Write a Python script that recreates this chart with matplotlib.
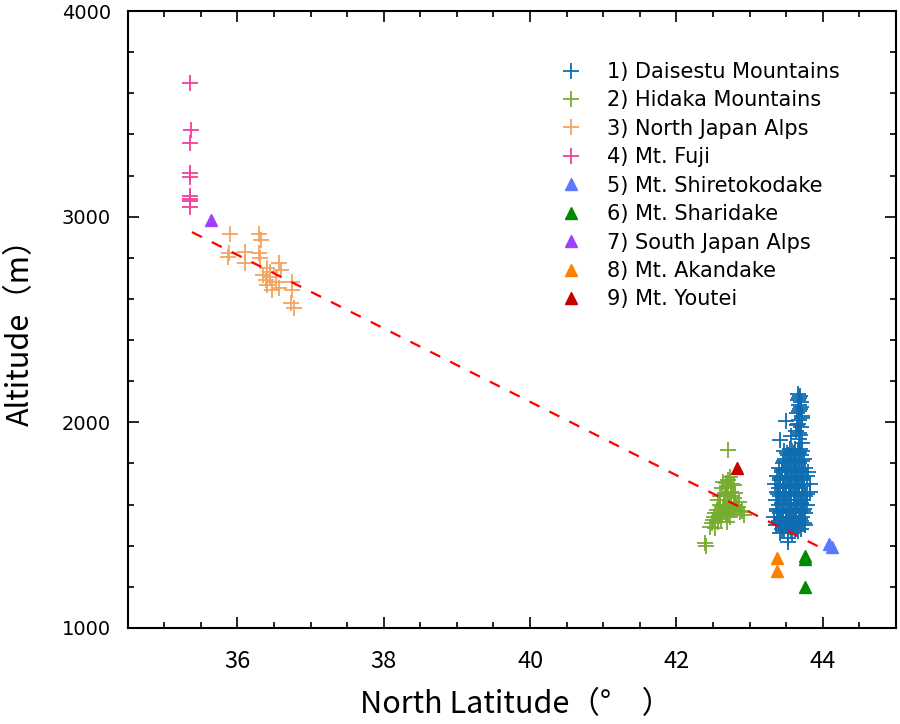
import matplotlib
matplotlib.use("Agg")
import matplotlib.pyplot as plt
from matplotlib.ticker import MultipleLocator

plt.rcParams['font.family'] = ['Noto Sans CJK JP', 'DejaVu Sans']

# 1) Daisetsu Mountains
dais_lat = [43.66, 43.68, 43.70, 43.67, 43.69, 43.65, 43.71, 43.68, 43.66, 43.70, 43.64, 43.69, 43.67, 43.72,
            43.42, 43.50, 43.56, 43.47,
            43.58, 43.66, 43.72,
            43.52, 43.62, 43.70,
            43.48, 43.56, 43.64, 43.74,
            43.45, 43.53, 43.60, 43.68,
            43.40, 43.50, 43.58, 43.66, 43.76,
            43.44, 43.55, 43.63, 43.72, 43.80,
            43.38, 43.48, 43.57, 43.66, 43.78,
            43.42, 43.52, 43.60, 43.70,
            43.34, 43.46, 43.55, 43.64, 43.74, 43.83,
            43.40, 43.50, 43.58, 43.68,
            43.38, 43.45, 43.54, 43.62, 43.72, 43.82,
            43.42, 43.50, 43.60, 43.68, 43.76,
            43.36, 43.47, 43.56, 43.65, 43.73,
            43.40, 43.52, 43.60, 43.70, 43.78,
            43.38, 43.46, 43.55, 43.64, 43.74,
            43.42, 43.50, 43.58, 43.67, 43.76,
            43.33, 43.46, 43.54, 43.62, 43.72,
            43.40, 43.50, 43.60, 43.70,
            43.36, 43.48, 43.56, 43.66, 43.75,
            43.44, 43.53, 43.62, 43.70,
            43.42, 43.58, 43.52, 43.52,
            43.69, 43.66, 43.70, 43.67, 43.71, 43.65, 43.68,
            43.55, 43.62, 43.69, 43.51, 43.60, 43.67, 43.47, 43.55, 43.63, 43.71,
            43.44, 43.53, 43.61, 43.69, 43.41, 43.49, 43.57, 43.65, 43.73,
            43.45, 43.54, 43.63, 43.71, 43.39, 43.48, 43.57, 43.66, 43.79,
            43.44, 43.53, 43.62, 43.70, 43.37, 43.46, 43.55, 43.64, 43.73,
            43.43, 43.52, 43.61, 43.69, 43.40, 43.49, 43.58, 43.66, 43.74,
            43.45, 43.55, 43.64, 43.47, 43.56, 43.66]
dais_alt = [2140, 2120, 2100, 2085, 2065, 2045, 2030, 2010, 1990, 1975, 1960, 1940, 1920, 1900,
            1915, 2005, 1935, 1860,
            1860, 1860, 1860,
            1840, 1840, 1840,
            1820, 1820, 1820, 1820,
            1800, 1800, 1800, 1800,
            1780, 1780, 1780, 1780, 1780,
            1760, 1760, 1760, 1760, 1760,
            1740, 1740, 1740, 1740, 1740,
            1720, 1720, 1720, 1720,
            1700, 1700, 1700, 1700, 1700, 1700,
            1680, 1680, 1680, 1680,
            1660, 1660, 1660, 1660, 1660, 1660,
            1640, 1640, 1640, 1640, 1640,
            1620, 1620, 1620, 1620, 1620,
            1600, 1600, 1600, 1600, 1600,
            1580, 1580, 1580, 1580, 1580,
            1560, 1560, 1560, 1560, 1560,
            1540, 1540, 1540, 1540, 1540,
            1520, 1520, 1520, 1520,
            1500, 1500, 1500, 1500, 1500,
            1480, 1480, 1480, 1480,
            1460, 1460, 1440, 1420,
            2130, 2110, 2075, 2055, 2020, 1985, 1950,
            1870, 1870, 1870, 1850, 1850, 1850, 1810, 1810, 1810, 1810,
            1770, 1770, 1770, 1770, 1730, 1730, 1730, 1730, 1730,
            1690, 1690, 1690, 1690, 1650, 1650, 1650, 1650, 1650,
            1610, 1610, 1610, 1610, 1570, 1570, 1570, 1570, 1570,
            1530, 1530, 1530, 1530, 1510, 1510, 1510, 1510, 1510,
            1490, 1490, 1490, 1470, 1470, 1470]

# 2) Hidaka Mountains
hida_lat = [42.71, 42.73, 42.67, 42.62, 42.78, 42.80, 42.60, 42.71, 42.85, 42.55, 42.67, 42.76, 42.87,
            42.51, 42.62, 42.73, 42.92, 42.48, 42.57, 42.69, 42.46, 42.53, 42.39, 42.41,
            42.65, 42.70, 42.75, 42.68, 42.72, 42.64, 42.78, 42.74, 42.69, 42.66, 42.60, 42.58,
            42.82, 42.80, 42.71, 42.76,
            42.63, 42.69, 42.74, 42.57, 42.66, 42.79, 42.84, 42.52, 42.61, 42.70, 42.89, 42.50]
hida_alt = [1865, 1736, 1703, 1680, 1696, 1655, 1640, 1640, 1615, 1574, 1582, 1574, 1566,
            1541, 1549, 1541, 1549, 1509, 1517, 1517, 1493, 1485, 1412, 1400,
            1620, 1600, 1610, 1560, 1590, 1590, 1630, 1660, 1680, 1650, 1600, 1560,
            1590, 1600, 1720, 1700,
            1710, 1690, 1640, 1620, 1570, 1580, 1590, 1560, 1530, 1550, 1570, 1525]

# 3) North Japan Alps
nalp_lat = [35.90, 36.29, 36.32, 35.89, 35.87, 36.11, 36.11, 36.29, 36.31, 36.57, 36.41, 36.35,
            36.44, 36.39, 36.41, 36.53, 36.57, 36.75, 36.75, 36.73, 36.78, 36.45, 36.48, 36.60]
nalp_alt = [2916, 2916, 2886, 2822, 2805, 2830, 2773, 2825, 2797, 2773, 2749, 2716,
            2708, 2692, 2668, 2684, 2652, 2684, 2643, 2579, 2554, 2732, 2643, 2741]

# 4) Mt. Fuji
fuji_lat = [35.36, 35.37, 35.35, 35.36, 35.36, 35.36, 35.36, 35.36, 35.36]
fuji_alt = [3650, 3420, 3360, 3210, 3195, 3100, 3085, 3075, 3045]

# 5) - 9) single peaks
shir_lat, shir_alt = [44.08, 44.12], [1410, 1395]
shar_lat, shar_alt = [43.75, 43.76, 43.75], [1350, 1335, 1200]
salp_lat, salp_alt = [35.64], [2985]
akan_lat, akan_alt = [43.38, 43.38], [1340, 1275]
yout_lat, yout_alt = [42.83], [1780]

# regression line end points
fit_lat = [35.38, 43.98]
fit_alt = [2925, 1389]

fig = plt.figure(figsize=(9, 7.24), dpi=100)
ax = fig.add_axes([0.1417, 0.1326, 0.8539, 0.8522])

cross = dict(marker='+', linestyle='none', ms=11, mew=1.3)
tri = dict(marker='^', linestyle='none', ms=8)

ax.plot(dais_lat, dais_alt, color='#0e6db0', label='1) Daisestu Mountains', **cross)
ax.plot(hida_lat, hida_alt, color='#77ac30', label='2) Hidaka Mountains', **cross)
ax.plot(nalp_lat, nalp_alt, color='#f4a460', label='3) North Japan Alps', **cross)
ax.plot(fuji_lat, fuji_alt, color='#f0409a', label='4) Mt. Fuji', **cross)
ax.plot(shir_lat, shir_alt, color='#5b78ff', label='5) Mt. Shiretokodake', **tri)
ax.plot(shar_lat, shar_alt, color='#008a00', label='6) Mt. Sharidake', **tri)
ax.plot(salp_lat, salp_alt, color='#a040ff', label='7) South Japan Alps', **tri)
ax.plot(akan_lat, akan_alt, color='#ff7f00', label='8) Mt. Akandake', **tri)
ax.plot(yout_lat, yout_alt, color='#c80000', label='9) Mt. Youtei', **tri)

ax.plot(fit_lat, fit_alt, color='red', lw=1.6, linestyle=(0, (5, 5)))

ax.set_xlim(34.5, 45)
ax.set_ylim(1000, 4000)
ax.xaxis.set_major_locator(MultipleLocator(2))
ax.xaxis.set_minor_locator(MultipleLocator(0.5))
ax.yaxis.set_major_locator(MultipleLocator(1000))
ax.yaxis.set_minor_locator(MultipleLocator(200))
ax.tick_params(which='both', direction='in', top=True, right=True, width=1.2)
ax.tick_params(which='major', length=8)
ax.tick_params(which='minor', length=4.5)
ax.tick_params(axis='x', labelsize=17, pad=16)
ax.tick_params(axis='y', labelsize=14, pad=12, labelfontfamily='DejaVu Sans')
for s in ax.spines.values():
    s.set_linewidth(1.5)

ax.set_xlabel('North Latitude（°　）', fontsize=22, va='center')
ax.set_ylabel('Altitude（m）', fontsize=22, va='center')
ax.xaxis.set_label_coords(0.505, -0.1248)
ax.yaxis.set_label_coords(-0.14, 0.492)

ax.legend(loc='upper left', bbox_to_anchor=(0.5528, 0.931), frameon=False,
          prop={'family': 'DejaVu Sans', 'size': 15},
          handlelength=1.0, handletextpad=1.23, labelspacing=0.405, borderaxespad=0)

fig.savefig('out.png', dpi=100)
